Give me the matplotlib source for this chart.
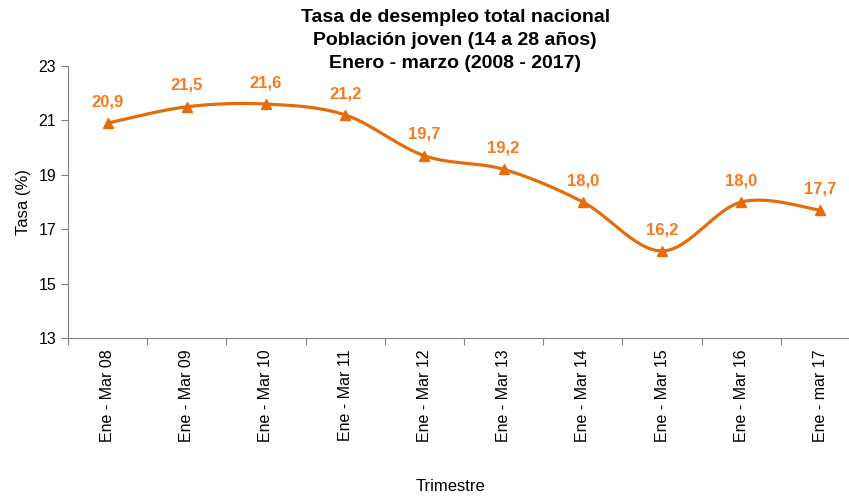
import numpy as np
import matplotlib
matplotlib.use('Agg')
import matplotlib.pyplot as plt

plt.rcParams['font.family'] = ['Liberation Sans', 'DejaVu Sans']

periodos = ['Ene - Mar 08', 'Ene - Mar 09', 'Ene - Mar 10', 'Ene - Mar 11', 'Ene - Mar 12',
            'Ene - Mar 13', 'Ene - Mar 14', 'Ene - Mar 15', 'Ene - Mar 16', 'Ene - mar 17']
tasa = [20.9, 21.5, 21.6, 21.2, 19.7, 19.2, 18.0, 16.2, 18.0, 17.7]

line_color = '#E46C0A'
label_color = '#F77A1E'


# smoothed line like the spreadsheet one (bezier through the points)
def smooth(x, y, n=30):
    x = np.asarray(x, float)
    y = np.asarray(y, float)
    px = np.concatenate([[x[0]], x, [x[-1]]])
    py = np.concatenate([[y[0]], y, [y[-1]]])
    xs, ys = [], []
    t = np.linspace(0, 1, n)
    for i in range(1, len(px) - 2):
        p0 = np.array([px[i], py[i]])
        p3 = np.array([px[i + 1], py[i + 1]])
        c1 = p0 + (np.array([px[i + 1], py[i + 1]]) - np.array([px[i - 1], py[i - 1]])) / 6
        c2 = p3 - (np.array([px[i + 2], py[i + 2]]) - np.array([px[i], py[i]])) / 6
        b = ((1 - t) ** 3)[:, None] * p0 + (3 * (1 - t) ** 2 * t)[:, None] * c1 \
            + (3 * (1 - t) * t ** 2)[:, None] * c2 + (t ** 3)[:, None] * p3
        xs.extend(b[:, 0])
        ys.extend(b[:, 1])
    return xs, ys


fig = plt.figure(figsize=(8.49, 4.96), dpi=100)
ax = fig.add_axes([0.080, 0.3185, 0.920, 0.5485])

x = np.arange(len(tasa))
sx, sy = smooth(x, tasa)
ax.plot(sx, sy, color=line_color, linewidth=2.3, zorder=3)
ax.plot(x, tasa, linestyle='none', marker='^', markersize=6.5, color=line_color, zorder=4)

for i, v in enumerate(tasa):
    ax.annotate(('%.1f' % v).replace('.', ','), (i, v), xytext=(0, 10), textcoords='offset points',
                ha='center', va='bottom', color=label_color, fontsize=12, fontweight='bold')

ax.set_yticks([13, 15, 17, 19, 21, 23])
ax.set_xticks(np.arange(-0.5, 9, 1.0))
ax.set_xticklabels([])
ax.set_xticks(x, minor=True)
ax.set_xticklabels(periodos, minor=True, rotation=90, fontsize=11.5)
ax.set_ylim(13, 23)
ax.set_xlim(-0.5, 9.36)
ax.tick_params(axis='x', which='minor', length=0, pad=8)
ax.tick_params(axis='x', which='major', direction='out', length=5, color='#808080')
ax.tick_params(axis='y', direction='out', length=5, color='#808080', labelsize=11.5)

for s in ['top', 'right']:
    ax.spines[s].set_visible(False)
for s in ['left', 'bottom']:
    ax.spines[s].set_color('#808080')

ax.set_ylabel('Tasa (%)', fontsize=12, labelpad=5)
fig.text(0.531, 0.005, 'Trimestre', ha='center', va='bottom', fontsize=12)

fig.text(0.536, 0.982, 'Tasa de desempleo total nacional\nPoblación joven (14 a 28 años)\nEnero - marzo (2008 - 2017)',
         ha='center', va='top', fontsize=14, fontweight='bold', linespacing=1.48)

plt.savefig('out.png', dpi=100)
